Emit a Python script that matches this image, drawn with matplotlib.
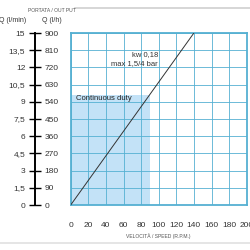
import matplotlib

matplotlib.use("Agg")
import matplotlib.pyplot as plt
from matplotlib.lines import Line2D

# chart data
speed_ticks = [0, 20, 40, 60, 80, 100, 120, 140, 160, 180, 200]
q_lmin_ticks = [0, 1.5, 3, 4.5, 6, 7.5, 9, 10.5, 12, 13.5, 15]
q_lh_ticks = [0, 90, 180, 270, 360, 450, 540, 630, 720, 810, 900]
curve_speed = [0, 140]
curve_q = [0, 15]
duty_speed = [0, 90]
duty_q = 9.6

GRID = "#55b0d2"
SHADE = "#c3e2f7"
TXT = "#333333"


def fmt(v):
    s = f"{v:g}"
    return s.replace(".", ",")


plt.rcParams.update({"font.family": "Liberation Sans", "font.size": 6})

fig = plt.figure(figsize=(2.5, 2.5), dpi=100)

x0, y0, w, h = 70.7 / 250, 45 / 250, 176 / 250, 172 / 250
ax = fig.add_axes([x0, y0, w, h])
ax.fill_between(duty_speed, 0, duty_q, color=SHADE, linewidth=0, zorder=1)
ax.plot(curve_speed, curve_q, color="#333333", linewidth=0.7, zorder=3)
ax.set_xlim(0, 200)
ax.set_ylim(0, 15)
ax.set_xticks(speed_ticks)
ax.set_xticklabels([str(v) for v in speed_ticks], color=TXT, fontsize=6)
ax.set_yticks(q_lmin_ticks)
ax.tick_params(axis="y", left=False, labelleft=False)
ax.tick_params(axis="x", length=0, pad=12)
ax.grid(True, color=GRID, linewidth=0.6, zorder=2)
ax.set_axisbelow(False)
for sp in ax.spines.values():
    sp.set_color(GRID)
    sp.set_linewidth(1.3)
ax.text(99, 13.1, "kw 0,18", ha="right", va="center", fontsize=5.5, color=TXT, zorder=4)
ax.text(99, 12.35, "max 1,5/4 bar", ha="right", va="center", fontsize=5.5, color=TXT, zorder=4)
ax.text(6, 9.25, "Continuous duty", ha="left", va="center", fontsize=5.5, color="#222222", zorder=4)
ax.set_xlabel("VELOCITÀ / SPEED (R.P.M.)", fontsize=3.6, color="#555555", labelpad=3)

# left scale: l/min on the left, l/h on the right
axl = fig.add_axes([35 / 250, y0, 0.0001, h])
axl.set_ylim(0, 15)
axl.set_yticks(q_lmin_ticks)
axl.set_yticklabels([fmt(v) for v in q_lmin_ticks], color=TXT, fontsize=6)
axl.set_xticks([])
axl.tick_params(axis="y", direction="inout", length=8, width=1, pad=3)
for k in ["top", "right", "bottom"]:
    axl.spines[k].set_visible(False)
axl.spines["left"].set_linewidth(1.4)
axl.patch.set_visible(False)

axr = axl.twinx()
axr.set_ylim(0, 900)
axr.set_yticks(q_lh_ticks)
axr.set_yticklabels([str(v) for v in q_lh_ticks], color=TXT, fontsize=6)
axr.tick_params(axis="y", length=0, pad=7)
for sp in axr.spines.values():
    sp.set_visible(False)

fig.text(52 / 250, 1 - 10 / 250, "PORTATA / OUT PUT", fontsize=3.6, color="#555555", ha="center", va="center")
fig.text(13 / 250, 1 - 20 / 250, "Q (l/min)", fontsize=5, color=TXT, ha="center", va="center")
fig.text(52 / 250, 1 - 20 / 250, "Q (l/h)", fontsize=5, color=TXT, ha="center", va="center")

fig.add_artist(Line2D([75 / 250, 1], [1 - 8 / 250] * 2, color="#d0d0d0", linewidth=1.2, transform=fig.transFigure))
fig.add_artist(Line2D([0, 1], [1 - 243 / 250] * 2, color="#e0e0e0", linewidth=1.2, transform=fig.transFigure))

fig.savefig("out.png", dpi=100)
